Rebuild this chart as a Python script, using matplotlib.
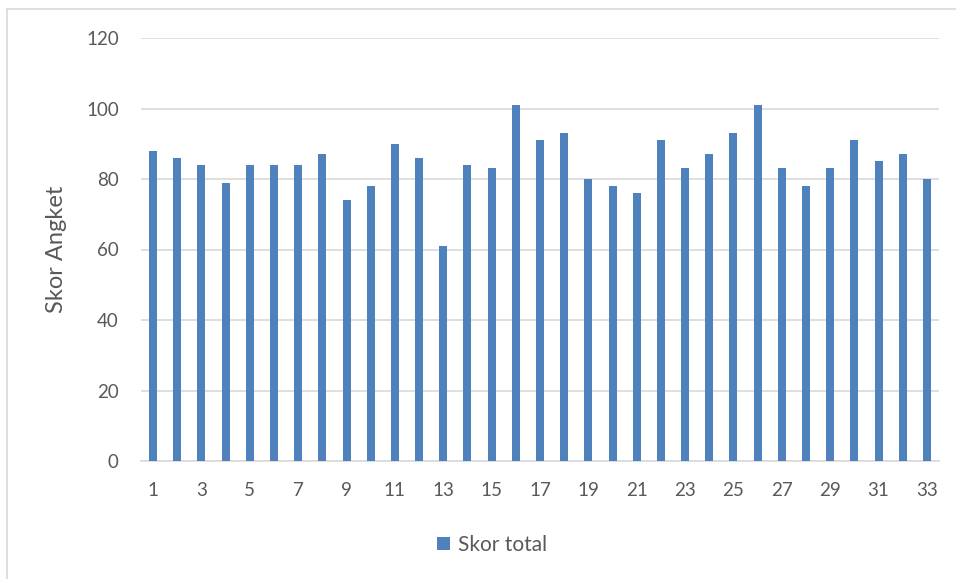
import matplotlib
matplotlib.use("Agg")
import matplotlib.pyplot as plt
from matplotlib.lines import Line2D

plt.rcParams['font.family'] = ['Lato', 'DejaVu Sans']

respondents = list(range(1, 34))
skor_total = [88, 86, 84, 79, 84, 84, 84, 87, 74, 78, 90, 86, 61, 84, 83, 101,
              91, 93, 80, 78, 76, 91, 83, 87, 93, 101, 83, 78, 83, 91, 85, 87, 80]
y_ticks = [0, 20, 40, 60, 80, 100, 120]
x_tick_labels = [str(r) for r in respondents if r % 2 == 1]

text_color = '#595959'
bar_color = '#4f81bd'
grid_color = '#d9d9d9'

W, H = 956, 579
fig = plt.figure(figsize=(W / 100, H / 100), dpi=100)
fig.patch.set_facecolor('white')

# chart frame (left and top edges)
fig.lines.append(Line2D([7 / W, 7 / W], [0, 1 - 8.5 / H], transform=fig.transFigure,
                        color='#d9d9d9', linewidth=1.2))
fig.lines.append(Line2D([7 / W, 1], [1 - 8.5 / H, 1 - 8.5 / H], transform=fig.transFigure,
                        color='#d9d9d9', linewidth=1.2))

ax = fig.add_axes([141 / W, 1 - 461 / H, (939 - 141) / W, (461 - 38) / H])
ax.bar(respondents, skor_total, width=0.33, color=bar_color, label='Skor total', zorder=3)

ax.set_xlim(0.5, 33.5)
ax.set_ylim(0, 120)
ax.set_yticks(y_ticks)
ax.set_xticks([r for r in respondents if r % 2 == 1])
ax.set_xticklabels(x_tick_labels)
ax.tick_params(axis='both', length=0, labelsize=13.5, colors=text_color)
ax.tick_params(axis='y', pad=16)
ax.tick_params(axis='x', pad=15)
ax.grid(axis='y', color=grid_color, linewidth=1.2, zorder=0)

for side in ['top', 'right', 'left']:
    ax.spines[side].set_visible(False)
ax.spines['bottom'].set_color(grid_color)
ax.spines['bottom'].set_linewidth(1.2)

ax.set_ylabel('Skor Angket', fontsize=17, color=text_color, labelpad=14)

handles, labels = ax.get_legend_handles_labels()
fig.legend(handles, labels, loc='center', bbox_to_anchor=(492 / W, 1 - 545 / H),
           frameon=False, fontsize=15, handlelength=0.6, handleheight=0.6,
           handletextpad=0.4, labelcolor=text_color)

fig.savefig('out.png', dpi=100)
